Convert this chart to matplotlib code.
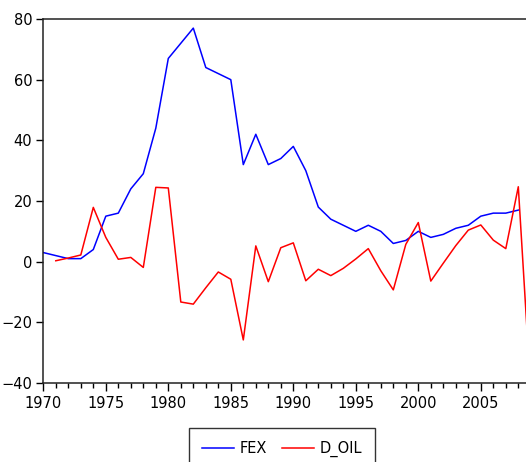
import numpy as np
import matplotlib
matplotlib.use("Agg")
from matplotlib import pyplot as plt
from matplotlib.ticker import MultipleLocator

years = list(range(1970, 2010))

# FEX, 1970-2008 (no value for 2009)
fex = [3, 2, 1, 1, 4, 15, 16, 24, 29, 44,
       67, 72, 77, 64, 62, 60, 32, 42, 32, 34,
       38, 30, 18, 14, 12, 10, 12, 10, 6, 7,
       10, 8, 9, 11, 12, 15, 16, 16, 17, np.nan]

# D_OIL, starts in 1971
d_oil = [np.nan, 0.3, 1.2, 2.2, 17.9, 8.0, 0.8, 1.4, -1.9, 24.5,
         24.3, -13.3, -14.0, -8.6, -3.4, -5.8, -25.8, 5.2, -6.6, 4.6,
         6.2, -6.3, -2.5, -4.6, -2.2, 0.9, 4.3, -3.0, -9.3, 5.7,
         12.9, -6.4, -0.5, 5.3, 10.4, 12.1, 7.1, 4.3, 24.7, -43.0]

plt.rcParams["font.family"] = "DejaVu Sans"
plt.rcParams["font.size"] = 10.5

fig = plt.figure(figsize=(5.26, 4.62), dpi=100)
ax = fig.add_axes([43.3 / 526, 1 - 383 / 462, 487.5 / 526, 364 / 462])

ax.plot(years, fex, color="#0000ff", lw=1.1, label="FEX")
ax.plot(years, d_oil, color="#ff0000", lw=1.1, label="D_OIL")

ax.set_xlim(1970, 2009)
ax.set_ylim(-40, 80)
ax.xaxis.set_major_locator(MultipleLocator(5))
ax.xaxis.set_minor_locator(MultipleLocator(1))
ax.yaxis.set_major_locator(MultipleLocator(20))

ax.tick_params(axis="x", which="major", direction="out", length=6, width=1, pad=3)
ax.tick_params(axis="x", which="minor", direction="out", length=3.5, width=1)
ax.tick_params(axis="y", which="major", direction="out", length=5, width=1, pad=3)

for side in ["left", "bottom", "top"]:
    ax.spines[side].set_linewidth(1.1)
    ax.spines[side].set_color("#222222")
ax.spines["right"].set_visible(False)

# legend box runs off the bottom edge, like the reference
leg = fig.legend(loc="upper center", bbox_to_anchor=(282 / 526, 1 - 428 / 462),
                 ncol=2, frameon=True, fancybox=False, edgecolor="black",
                 handlelength=2.2, columnspacing=1.0, handletextpad=0.4,
                 borderpad=0.9, borderaxespad=0, fontsize=10.5)
leg.get_frame().set_linewidth(1.0)

plt.savefig("out.png", dpi=100)
